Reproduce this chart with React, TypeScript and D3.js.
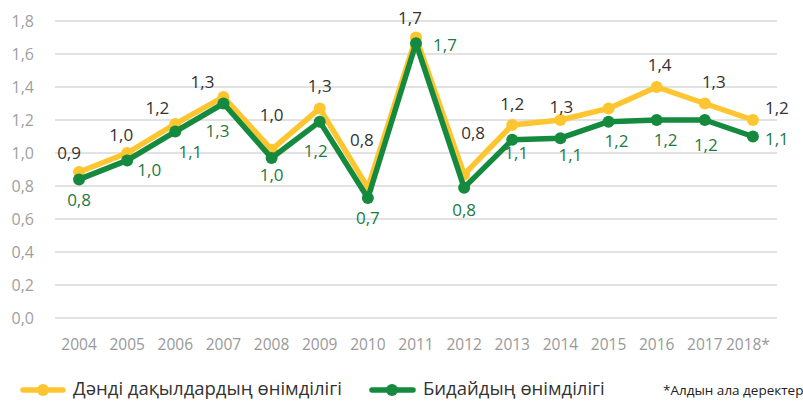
import React from "react";
import * as d3 from "d3";

const years = ["2004","2005","2006","2007","2008","2009","2010","2011","2012","2013","2014","2015","2016","2017","2018*"];
const grainValues = [0.885,1.0,1.176,1.34,1.02,1.27,0.79,1.70,0.87,1.17,1.20,1.27,1.40,1.30,1.20];
const wheatValues = [0.84,0.955,1.13,1.30,0.97,1.19,0.727,1.665,0.79,1.08,1.09,1.19,1.20,1.20,1.10];
const grainLabels = ["0,9","1,0","1,2","1,3","1,0","1,3","0,8","1,7","0,8","1,2","1,3",null,"1,4","1,3","1,2"];
const wheatLabels = ["0,8","1,0","1,1","1,3","1,0","1,2","0,7","1,7","0,8","1,1","1,1","1,2","1,2","1,2","1,1"];
const yTicks = [0,0.2,0.4,0.6,0.8,1.0,1.2,1.4,1.6,1.8];
const seriesNames = ["Дәнді дақылдардың өнімділігі","Бидайдың өнімділігі"];
const footnote = "*Алдын ала деректер";

// label nudges (layout only)
const grainNudge: [number, number][] = [[-10,-19],[-6,-18],[-18,-16],[-21,-15],[0,-35],[0,-22],[-6,-48],[-6,-19],[9,-41],[0,-21],[1,-13],[0,0],[3,-22],[9,-21],[24,-12]];
const wheatNudge: [number, number][] = [[0,21],[22,10],[15,20],[-6,28],[0,17],[-4,29],[0,20],[29,2],[0,22],[4,13],[10,17],[8,19],[9,20],[1,25],[24,3]];

const W = 803, H = 401;
const YELLOW = "#FDC52F";
const GREEN = "#158A3F";
const FONT = "'Open Sans', sans-serif";

export default function App() {
  const x = d3.scaleBand<string>().domain(years).range([55, 777]);
  const cx = (i: number) => (x(years[i]) as number) + x.bandwidth() / 2;
  const y = d3.scaleLinear().domain([0, 1.8]).range([318, 21]);
  const line = d3.line<number>().x((_, i) => cx(i)).y(d => y(d));
  const fmt = d3.format(".1f");
  const legY = 390;

  return (
    <svg width={W} height={H} style={{ position: "fixed", left: 0, top: 0, background: "#fff" }} fontFamily={FONT}>
      {yTicks.map(t => (
        <g key={t}>
          <line x1={55} x2={777} y1={y(t)} y2={y(t)} stroke="#d9d9d9" strokeWidth={1.5} />
          <text x={34} y={y(t)} dy="0.35em" textAnchor="end" fontSize={16} fill="#a0a0a0">{fmt(t).replace(".", ",")}</text>
        </g>
      ))}
      {years.map((yr, i) => (
        <text key={yr} x={cx(i) - (yr.endsWith("*") ? 5 : 0)} y={350} textAnchor="middle" fontSize={15.5} fill="#999">{yr}</text>
      ))}
      <path d={line(grainValues) || ""} fill="none" stroke={YELLOW} strokeWidth={5.5} strokeLinejoin="round" />
      {grainValues.map((v, i) => <circle key={"g" + i} cx={cx(i)} cy={y(v)} r={6} fill={YELLOW} />)}
      <path d={line(wheatValues) || ""} fill="none" stroke={GREEN} strokeWidth={5.5} strokeLinejoin="round" />
      {wheatValues.map((v, i) => <circle key={"w" + i} cx={cx(i)} cy={y(v)} r={6} fill={GREEN} />)}
      {grainLabels.map((l, i) => l ? (
        <text key={"gl" + i} x={cx(i) + grainNudge[i][0]} y={y(grainValues[i]) + grainNudge[i][1]} dy="0.35em" textAnchor="middle" fontSize={17} fill="#333">{l}</text>
      ) : null)}
      {wheatLabels.map((l, i) => (
        <text key={"wl" + i} x={cx(i) + wheatNudge[i][0]} y={y(wheatValues[i]) + wheatNudge[i][1]} dy="0.35em" textAnchor="middle" fontSize={17} fill="#1d7a45">{l}</text>
      ))}
      <g>
        <line x1={23} x2={63} y1={legY} y2={legY} stroke={YELLOW} strokeWidth={5.5} strokeLinecap="round" />
        <circle cx={43} cy={legY} r={6} fill={YELLOW} />
        <text x={73} y={legY - 1} dy="0.35em" fontSize={18.5} fill="#333">{seriesNames[0]}</text>
        <line x1={372} x2={413} y1={legY} y2={legY} stroke={GREEN} strokeWidth={5.5} strokeLinecap="round" />
        <circle cx={392} cy={legY} r={6} fill={GREEN} />
        <text x={423} y={legY - 1} dy="0.35em" fontSize={18.5} fill="#333">{seriesNames[1]}</text>
        <text x={663} y={legY} dy="0.35em" fontSize={13.5} fill="#222">{footnote}</text>
      </g>
    </svg>
  );
}
